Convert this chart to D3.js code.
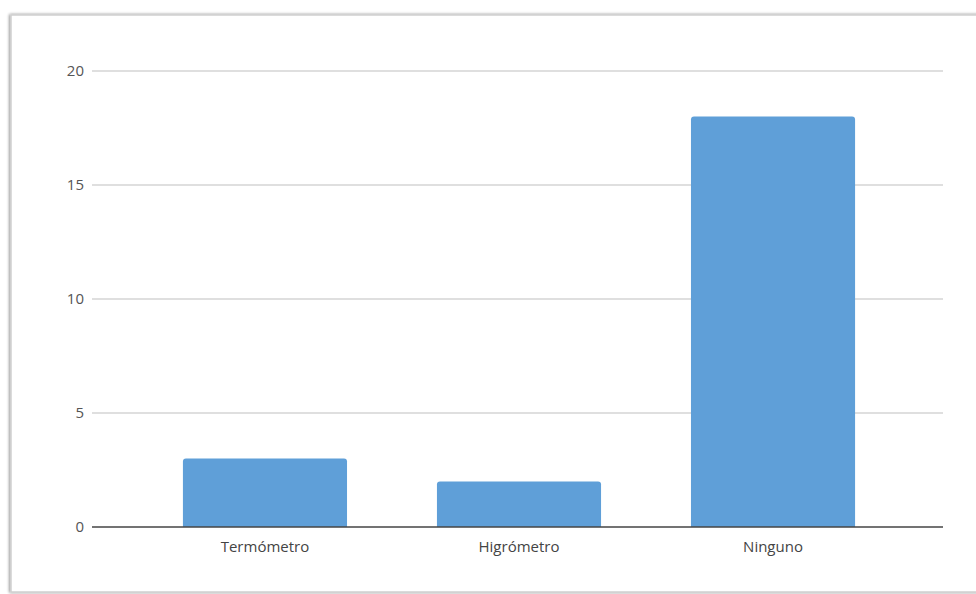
<!DOCTYPE html>
<html>
<head>
<meta charset="utf-8">
<script src="https://cdn.jsdelivr.net/npm/d3@7"></script>
<style>
  body { margin: 0; background: #fff; }
  svg { display: block; }
</style>
</head>
<body>
<script>
var categories = ["Termómetro", "Higrómetro", "Ninguno"];
var values = [3, 2, 18];
var yTicks = [0, 5, 10, 15, 20];

var W = 976, H = 594;
var plotLeft = 92, plotRight = 943, plotTop = 71, plotBottom = 527;

var svg = d3.select("body").append("svg")
    .attr("width", W).attr("height", H);

var defs = svg.append("defs");
var f = defs.append("filter").attr("id", "shadow")
    .attr("x", "-5%").attr("y", "-5%").attr("width", "110%").attr("height", "110%");
f.append("feGaussianBlur").attr("in", "SourceAlpha").attr("stdDeviation", 1.5);
f.append("feOffset").attr("dx", -1).attr("dy", 0).attr("result", "b");
f.append("feComponentTransfer").append("feFuncA").attr("type", "linear").attr("slope", 0.45);
var m = f.append("feMerge");
m.append("feMergeNode");
m.append("feMergeNode").attr("in", "SourceGraphic");

// chart frame (runs past the right / bottom edges)
svg.append("rect")
    .attr("x", 11).attr("y", 15)
    .attr("width", W + 20).attr("height", 577)
    .attr("fill", "#fff")
    .attr("stroke", "#cfcfcf").attr("stroke-width", 1.5)
    .attr("filter", "url(#shadow)");

var y = d3.scaleLinear().domain([0, 20]).range([plotBottom, plotTop]);
var x = d3.scaleBand().domain(categories).range([plotLeft + 1, plotRight + 2])
    .paddingInner(0.354).paddingOuter(0.354);

// gridlines
svg.append("g").selectAll("line")
    .data(yTicks.filter(function(d) { return d > 0; }))
    .enter().append("line")
    .attr("x1", plotLeft).attr("x2", plotRight)
    .attr("y1", function(d) { return y(d); })
    .attr("y2", function(d) { return y(d); })
    .attr("stroke", "#d4d4d4").attr("stroke-width", 1.5);

// y labels
svg.append("g").selectAll("text")
    .data(yTicks).enter().append("text")
    .attr("x", 84)
    .attr("y", function(d) { return y(d); })
    .attr("dy", "0.35em")
    .attr("text-anchor", "end")
    .attr("font-family", "'Open Sans', sans-serif")
    .attr("font-size", 15)
    .attr("fill", "#555")
    .text(function(d) { return d; });

// bars, small rounded top corners
var r = 3;
svg.append("g").selectAll("path")
    .data(values).enter().append("path")
    .attr("fill", "#5f9fd8")
    .attr("d", function(d, i) {
        var x0 = x(categories[i]), x1 = x0 + x.bandwidth();
        var y0 = y(d), y1 = y(0);
        return "M" + x0 + "," + y1 +
            "V" + (y0 + r) +
            "Q" + x0 + "," + y0 + " " + (x0 + r) + "," + y0 +
            "H" + (x1 - r) +
            "Q" + x1 + "," + y0 + " " + x1 + "," + (y0 + r) +
            "V" + y1 + "Z";
    });

// baseline
svg.append("line")
    .attr("x1", plotLeft).attr("x2", plotRight)
    .attr("y1", y(0)).attr("y2", y(0))
    .attr("stroke", "#444").attr("stroke-width", 1.5);

// x labels
svg.append("g").selectAll("text")
    .data(categories).enter().append("text")
    .attr("x", function(d) { return x(d) + x.bandwidth() / 2; })
    .attr("y", 552)
    .attr("text-anchor", "middle")
    .attr("font-family", "'Open Sans', sans-serif")
    .attr("font-size", 15)
    .attr("fill", "#444")
    .text(function(d) { return d; });
</script>
</body>
</html>
